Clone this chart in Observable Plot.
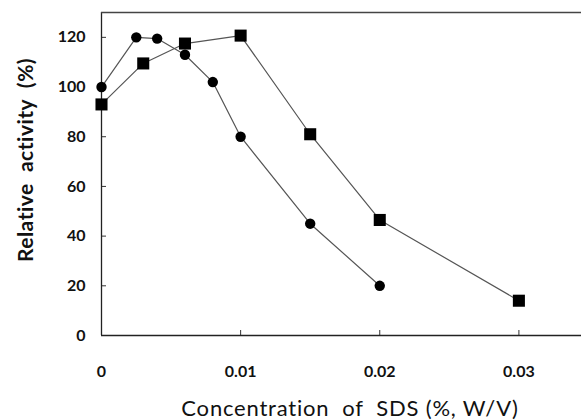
<!DOCTYPE html>
<html>
<head>
<meta charset="utf-8">
<script src="https://cdn.jsdelivr.net/npm/d3@7"></script>
<script src="https://cdn.jsdelivr.net/npm/@observablehq/plot@0.6"></script>
<style>
  html, body { margin: 0; padding: 0; background: #fff; }
  #chart svg { display: block; }
</style>
</head>
<body>
<div id="chart"></div>
<script>
const circleX = [0, 0.0025, 0.004, 0.006, 0.008, 0.01, 0.015, 0.02];
const circleY = [100, 120, 119.5, 113, 102, 80, 45, 20];
const squareX = [0, 0.003, 0.006, 0.01, 0.015, 0.02, 0.03];
const squareY = [93, 109.5, 117.5, 120.7, 81, 46.5, 14];
const xTicks = [0, 0.01, 0.02, 0.03];
const xTickLabels = ["0", "0.01", "0.02", "0.03"];
const yTicks = [0, 20, 40, 60, 80, 100, 120];
const xTitle = "Concentration  of  SDS (%, W/V)";
const yTitle = "Relative  activity  (%)";

const circles = circleX.map((x, i) => ({x, y: circleY[i]}));
const squares = squareX.map((x, i) => ({x, y: squareY[i]}));

const font = "Lato, 'Open Sans', sans-serif";

const chart = Plot.plot({
  width: 581,
  height: 420,
  marginLeft: 101,
  marginRight: 0,
  marginTop: 12,
  marginBottom: 85,
  style: {fontFamily: font, background: "#fff"},
  x: {domain: [0, 0.0345]},
  y: {domain: [0, 130]},
  marks: [
    Plot.axisX({ticks: xTicks, tickSize: -5, tickFormat: () => "", stroke: "#333", label: null}),
    Plot.axisX({ticks: xTicks, tickSize: 0, tickPadding: 30, tickFormat: (d, i) => xTickLabels[i],
      fontSize: 16, fontWeight: "bold", fill: "#111", label: null}),
    Plot.axisY({ticks: yTicks, tickSize: -5, tickFormat: () => "", stroke: "#333", label: null}),
    Plot.axisY({ticks: yTicks, tickSize: 0, tickPadding: 16, fontSize: 16, fontWeight: "bold", fill: "#111", label: null}),
    Plot.ruleX([0], {stroke: "#222", strokeWidth: 1.3}),
    Plot.ruleY([0], {stroke: "#222", strokeWidth: 1.3}),
    Plot.ruleY([130], {stroke: "#444", strokeWidth: 1.3}),
    Plot.line(circles, {x: "x", y: "y", stroke: "#555", strokeWidth: 1.2}),
    Plot.line(squares, {x: "x", y: "y", stroke: "#555", strokeWidth: 1.2}),
    Plot.dot(circles, {x: "x", y: "y", r: 5.2, fill: "#000", symbol: "circle"}),
    Plot.dot(squares, {x: "x", y: "y", r: 6.8, fill: "#000", symbol: "square"})
  ]
});

const svg = d3.select(chart);
svg.append("text")
  .attr("x", 350).attr("y", 416)
  .attr("text-anchor", "middle")
  .attr("font-family", font)
  .attr("font-size", 22)
  .attr("letter-spacing", 0.8)
  .attr("fill", "#111")
  .style("white-space", "pre")
  .text(xTitle);
svg.append("text")
  .attr("transform", "translate(33,160) rotate(-90)")
  .attr("text-anchor", "middle")
  .attr("font-family", font)
  .attr("font-size", 21)
  .attr("letter-spacing", 0.5)
  .attr("font-weight", "bold")
  .attr("fill", "#111")
  .style("white-space", "pre")
  .text(yTitle);

document.getElementById("chart").appendChild(chart);
</script>
</body>
</html>
